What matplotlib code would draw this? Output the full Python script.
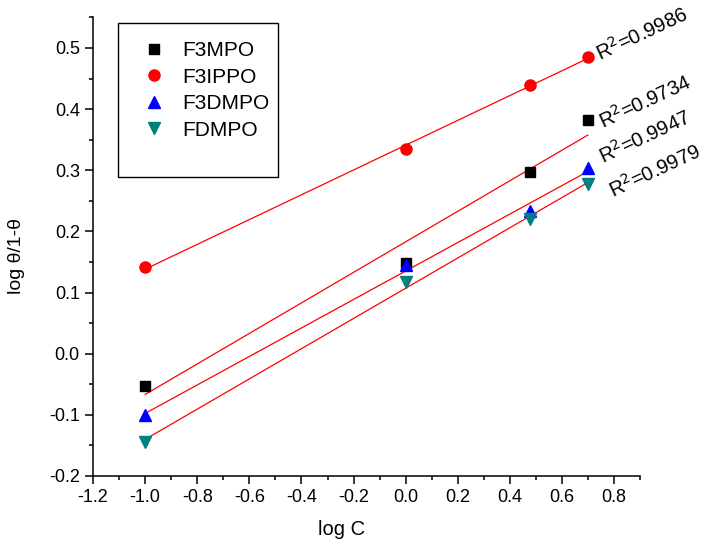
import numpy as np
import matplotlib.pyplot as plt
from matplotlib.ticker import MultipleLocator
from matplotlib.lines import Line2D
from matplotlib.patches import Rectangle

plt.rcParams['font.family'] = ['Liberation Sans', 'DejaVu Sans']

log_c = [-1.0, 0.0, 0.477, 0.699]

f3mpo = [-0.052, 0.149, 0.297, 0.382]
f3ippo = [0.141, 0.334, 0.439, 0.486]
f3dmpo = [-0.100, 0.145, 0.234, 0.303]
fdmpo = [-0.144, 0.118, 0.221, 0.277]

names = ['F3MPO', 'F3IPPO', 'F3DMPO', 'FDMPO']
r2_labels = ['R$^2$=0.9734', 'R$^2$=0.9986', 'R$^2$=0.9947', 'R$^2$=0.9979']

series = [f3mpo, f3ippo, f3dmpo, fdmpo]
colors = ['black', '#ff0000', '#0000ff', '#008080']
markers = ['s', 'o', '^', 'v']
sizes = [6.5, 8, 8, 8]
# where each R^2 label sits (data coords)
r2_pos = [(0.757, 0.368), (0.745, 0.478), (0.757, 0.311), (0.798, 0.254)]

fig = plt.figure(figsize=(7.05, 5.44), dpi=100)
ax = fig.add_axes([0.132, 0.125, 0.776, 0.843])

x = np.array(log_c)
for ys, c, m, s in zip(series, colors, markers, sizes):
    k, b = np.polyfit(x, ys, 1)
    ax.plot(x[[0, -1]], k * x[[0, -1]] + b, color='#ff0000', lw=0.9, zorder=2)
    ax.plot(x, ys, linestyle='none', marker=m, color=c, markersize=s, zorder=3)

for lab, (px, py) in zip(r2_labels, r2_pos):
    ax.text(px, py, lab, rotation=25, rotation_mode='anchor', ha='left',
            va='baseline', fontsize=14.5)

ax.set_xlim(-1.2, 0.9)
ax.set_ylim(-0.2, 0.55)
ax.xaxis.set_minor_locator(MultipleLocator(0.1))
ax.yaxis.set_minor_locator(MultipleLocator(0.05))
xt = np.round(np.arange(-1.2, 0.81, 0.2), 1)
yt = np.round(np.arange(-0.2, 0.51, 0.1), 1)
ax.set_xticks(xt)
ax.set_xticklabels(['%.1f' % (v + 0.0) for v in xt])
ax.set_yticks(yt)
ax.set_yticklabels(['%.1f' % (v + 0.0) for v in yt])

ax.spines['top'].set_visible(False)
ax.spines['right'].set_visible(False)
for sp in ['left', 'bottom']:
    ax.spines[sp].set_linewidth(1.1)
ax.tick_params(which='major', direction='out', length=6, width=1.1, labelsize=13)
ax.tick_params(which='minor', direction='out', length=3, width=1.1)

ax.set_xlabel('log C', fontsize=14.5)
ax.xaxis.set_label_coords(0.455, -0.095)
ax.set_ylabel('log θ/1-θ', fontsize=14)
ax.yaxis.set_label_coords(-0.125, 0.48)

# legend box is taller than its entries, so draw the frame separately
ax.add_patch(Rectangle((0.045, 0.652), 0.293, 0.336, transform=ax.transAxes,
                       facecolor='white', edgecolor='black', lw=1.0, zorder=4))
handles = [Line2D([], [], linestyle='none', marker=m, color=c, markersize=s)
           for c, m, s in zip(colors, markers, sizes)]
leg = ax.legend(handles, names, loc='upper left',
                bbox_to_anchor=(0.045, 0.972), fontsize=15, frameon=False,
                borderpad=0.53, handlelength=2.4, handletextpad=0.19,
                labelspacing=0.36, borderaxespad=0)
leg.set_zorder(5)

fig.savefig('out.png', dpi=100)
